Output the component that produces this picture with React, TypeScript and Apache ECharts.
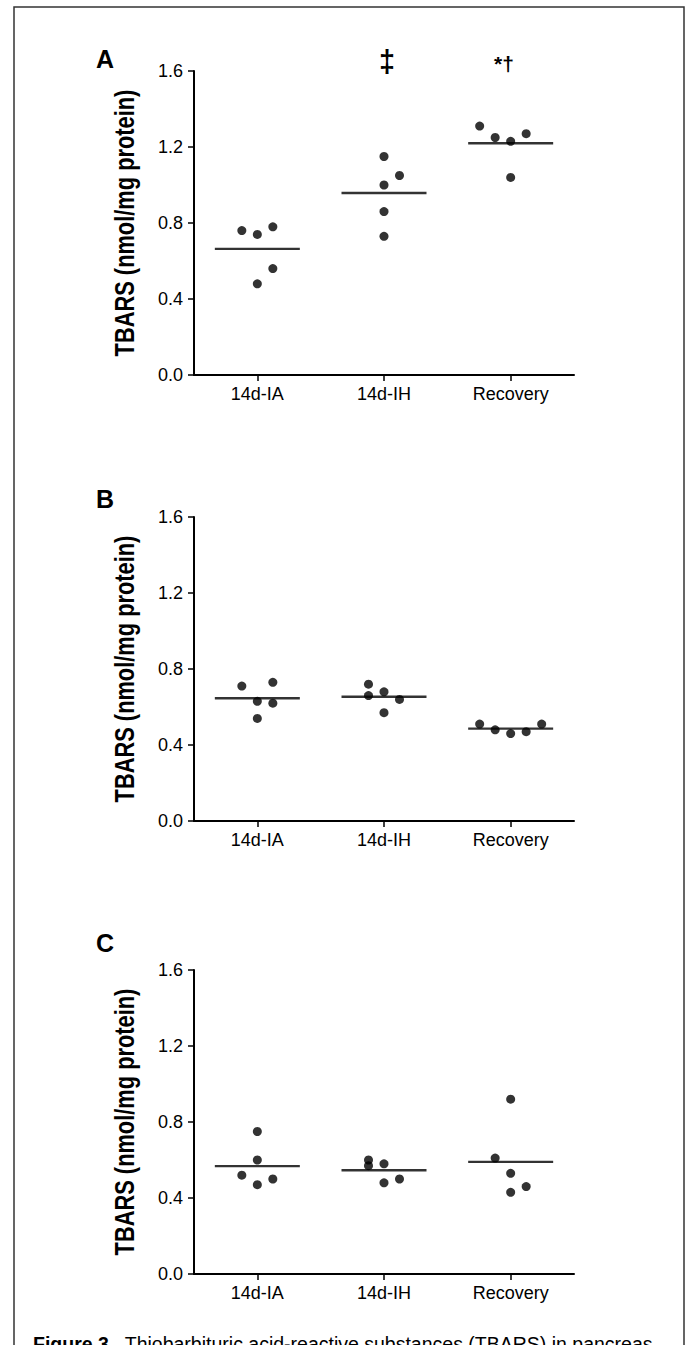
import React, { useEffect, useRef } from "react";
import * as echarts from "echarts";

// ---- data ----
const categories = ["14d-IA", "14d-IH", "Recovery"];
const panelNames = ["A", "B", "C"];
const yTicks = [0, 0.4, 0.8, 1.2, 1.6];
const yTitle = "TBARS (nmol/mg protein)";

const aIA = [0.76, 0.74, 0.78, 0.56, 0.48];
const aIH = [1.15, 1.05, 1.0, 0.86, 0.73];
const aRec = [1.31, 1.25, 1.23, 1.27, 1.04];

const bIA = [0.71, 0.73, 0.63, 0.62, 0.54];
const bIH = [0.72, 0.66, 0.68, 0.64, 0.57];
const bRec = [0.51, 0.48, 0.46, 0.47, 0.51];

const cIA = [0.75, 0.6, 0.52, 0.5, 0.47];
const cIH = [0.6, 0.57, 0.58, 0.48, 0.5];
const cRec = [0.92, 0.61, 0.53, 0.46, 0.43];

const significanceA = ["", "\u2021", "*\u2020"];
const captionBold = "Figure 3.";
const captionText = "Thiobarbituric acid-reactive substances (TBARS) in pancreas";

// ---- layout (horizontal dot spreading, in slots) ----
const slotsA = [[-1, 0, 1, 1, 0], [0, 1, 0, 0, 0], [-2, -1, 0, 1, 0]];
const slotsB = [[-1, 1, 0, 1, 0], [-1, -1, 0, 1, 0], [-2, -1, 0, 1, 2]];
const slotsC = [[0, 0, -1, 1, 0], [-1, -1, 0, 0, 1], [0, -1, 0, 1, 0]];
const SLOT_PX = 15.5;

const FONT = "'Liberation Sans', Arial, Helvetica, sans-serif";

const GRID_H = 304;
const panels = [
  { groups: [aIA, aIH, aRec], slots: slotsA, top: 71 },
  { groups: [bIA, bIH, bRec], slots: slotsB, top: 517 },
  { groups: [cIA, cIH, cRec], slots: slotsC, top: 970 },
];
const letterY = [59, 499, 943];

const mean = (a: number[]) => a.reduce((s, v) => s + v, 0) / a.length;

export default function App() {
  const ref = useRef<HTMLDivElement>(null);
  useEffect(() => {
    document.body.style.margin = "0";
    if (!ref.current) return;
    const chart = echarts.init(ref.current, null, { renderer: "svg" });

    const grids = panels.map((p) => ({ left: 194, top: p.top, width: 380, height: GRID_H }));
    const xAxes = panels.map((_, i) => ({
      gridIndex: i,
      type: "category",
      data: categories,
      boundaryGap: true,
      axisLine: { show: true, lineStyle: { color: "#000", width: 2 } },
      axisTick: { show: true, alignWithLabel: true, length: 6, lineStyle: { color: "#000", width: 1.5 } },
      axisLabel: { color: "#000", fontSize: 18, fontFamily: FONT, margin: 10 },
      splitLine: { show: false },
    }));
    const yAxes = panels.map((_, i) => ({
      gridIndex: i,
      type: "value",
      min: yTicks[0],
      max: yTicks[yTicks.length - 1],
      interval: yTicks[1] - yTicks[0],
      axisLine: { show: true, lineStyle: { color: "#000", width: 2 } },
      axisTick: { show: true, length: 6, lineStyle: { color: "#000", width: 1.5 } },
      axisLabel: { color: "#000", fontSize: 18, fontFamily: FONT, margin: 11, formatter: (v: number) => v.toFixed(1) },
      splitLine: { show: false },
    }));

    const series: any[] = [];
    panels.forEach((p, i) => {
      series.push({
        type: "scatter",
        xAxisIndex: i,
        yAxisIndex: i,
        symbol: "rect",
        symbolSize: [85, 2.4],
        itemStyle: { color: "#000" },
        silent: true,
        data: p.groups.map((vals, g) => [g, mean(vals)]),
        z: 2,
      });
      series.push({
        type: "scatter",
        xAxisIndex: i,
        yAxisIndex: i,
        symbol: "circle",
        symbolSize: 9,
        itemStyle: { color: "#000" },
        silent: true,
        data: p.groups.flatMap((vals, g) =>
          vals.map((v, k) => ({ value: [g, v], symbolOffset: [p.slots[g][k] * SLOT_PX, 0] }))
        ),
        z: 3,
      });
    });

    const graphic: any[] = [
      {
        type: "rect",
        shape: { x: 14, y: 7, width: 670, height: 1400 },
        style: { fill: "none", stroke: "#333", lineWidth: 1.5 },
        silent: true,
      },
      ...panelNames.map((n, i) => ({
        type: "text",
        x: 105,
        y: letterY[i],
        style: {
          text: n,
          fill: "#000",
          font: `bold 25px ${FONT}`,
          textAlign: "center",
          textVerticalAlign: "middle",
        },
      })),
      ...panels.map((p) => ({
        type: "text",
        x: 124,
        y: p.top + GRID_H / 2,
        rotation: Math.PI / 2,
        scaleX: 0.78,
        style: {
          text: yTitle,
          fill: "#000",
          font: `bold 28px ${FONT}`,
          textAlign: "center",
          textVerticalAlign: "middle",
        },
      })),
      {
        type: "text",
        x: 387,
        y: 60,
        scaleX: 0.9,
        style: { text: significanceA[1], fill: "#000", font: `bold 32px ${FONT}`, textAlign: "center", textVerticalAlign: "middle" },
      },
      {
        type: "text",
        x: 504,
        y: 63,
        style: { text: significanceA[2], fill: "#000", font: `bold 21px ${FONT}`, textAlign: "center", textVerticalAlign: "middle" },
      },
      {
        type: "text",
        x: 33,
        y: 1334,
        style: {
          text: `{b|${captionBold}}  ${captionText}`,
          fill: "#000",
          font: `19.5px ${FONT}`,
          textVerticalAlign: "top",
          rich: { b: { fontWeight: "bold", fontSize: 19.5, fontFamily: FONT, fill: "#000" } },
        },
      },
    ];

    chart.setOption({
      animation: false,
      backgroundColor: "#fff",
      grid: grids,
      xAxis: xAxes,
      yAxis: yAxes,
      series,
      graphic,
    });
    return () => chart.dispose();
  }, []);
  return <div ref={ref} style={{ width: 689, height: 1345 }} />;
}
